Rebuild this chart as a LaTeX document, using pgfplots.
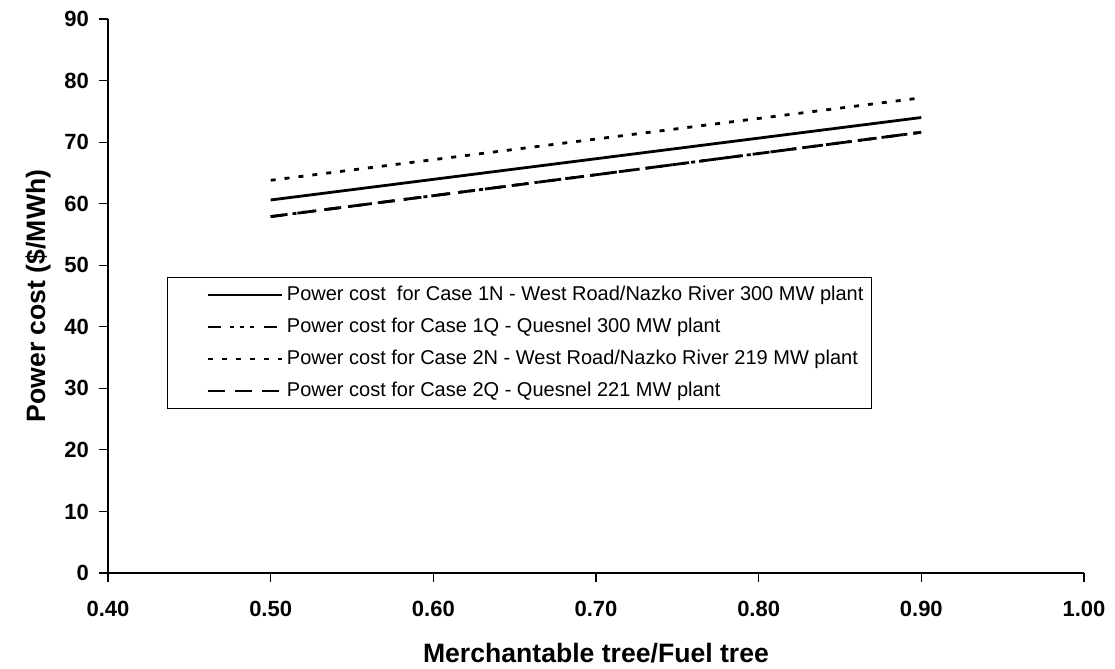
\documentclass[border=0pt]{standalone}
\usepackage{pgfplots}
\pgfplotsset{compat=1.18}
\usepackage{fontspec}
\setmainfont{Liberation Sans}

\begin{document}
\begin{tikzpicture}
\begin{axis}[
    name=main,
    scale only axis,
    width=488pt, height=277pt,
    xmin=0.4, xmax=1.0, ymin=0, ymax=90,
    axis x line*=bottom, axis y line*=left,
    axis line style={line width=0.6pt, -},
    xtick={0.4,0.5,...,1.0}, ytick={0,10,...,90},
    tick align=outside, major tick length=4.5pt,
    tick style={black, line width=0.6pt},
    x tick label style={/pgf/number format/fixed, /pgf/number format/fixed zerofill,
        /pgf/number format/precision=2, yshift=-6pt},
    y tick label style={xshift=-1.5pt},
    /pgf/number format/assume math mode=true,
    tick label style={font=\fontsize{11}{12}\selectfont\bfseries},
    xlabel={Merchantable tree/Fuel tree},
    ylabel={Power cost (\$/MWh)},
    every axis x label/.style={at={(axis description cs:0.5,-0.144)}, anchor=center,
        font=\fontsize{13.3}{15}\selectfont\bfseries},
    every axis y label/.style={at={(axis description cs:-0.0717,0.5)}, rotate=90, anchor=center,
        font=\fontsize{13.3}{15}\selectfont\bfseries},
    clip=false,
    legend cell align=left,
    legend style={at={(0.0605,0.5343)}, anchor=north west, draw=black, line width=0.5pt,
        font=\fontsize{10}{12}\selectfont, inner xsep=2pt, inner ysep=2.4pt,
        row sep=3.25pt},
    legend image code/.code={\path[draw=none] (0pt,0pt) -- (55pt,0pt); \draw[#1, line width=1.4pt] (18pt,0pt) -- (55pt,0pt);},
]
\addplot[black, line width=1.4pt] coordinates {(0.5,60.6) (0.7,67.3) (0.9,74.0)};
\addlegendentry{Power cost~ for Case 1N - West Road/Nazko River 300 MW plant}
\addplot[black, line width=1.4pt, dash pattern=on 6.5pt off 4.5pt on 2pt off 3pt on 2pt off 3pt on 2pt off 5pt] coordinates {(0.5,57.9) (0.7,64.7) (0.9,71.6)};
\addlegendentry{Power cost for Case 1Q - Quesnel 300 MW plant}
\addplot[black, line width=1.4pt, dash pattern=on 2.5pt off 4.5pt] coordinates {(0.5,63.8) (0.7,70.5) (0.9,77.2)};
\addlegendentry{Power cost for Case 2N - West Road/Nazko River 219 MW plant}
\addplot[black, line width=1.4pt, dash pattern=on 8.5pt off 5pt] coordinates {(0.5,57.9) (0.7,64.7) (0.9,71.6)};
\addlegendentry{Power cost for Case 2Q - Quesnel 221 MW plant}
\end{axis}
\pgfresetboundingbox
\path (main.south west) ++(-54pt,-48pt) rectangle ++(557.5pt,334.5pt);
\end{tikzpicture}
\end{document}
